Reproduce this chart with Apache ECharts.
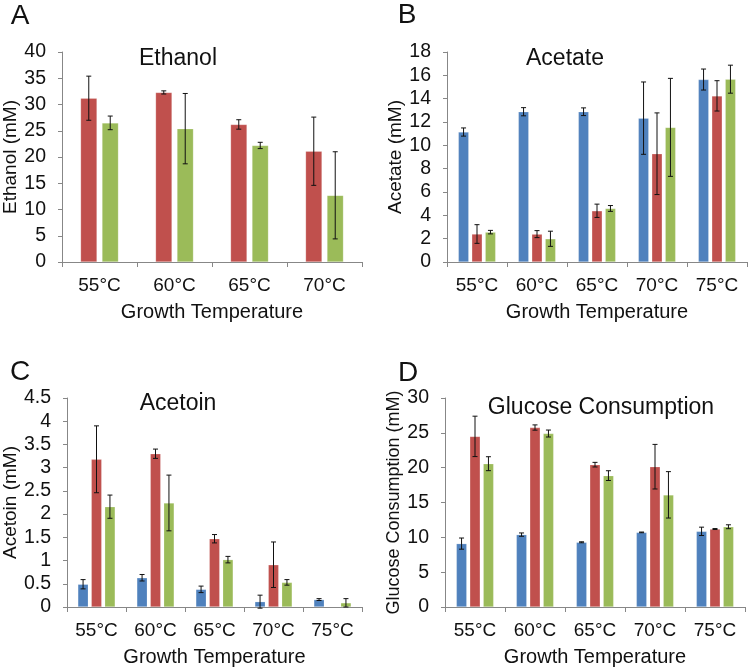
<!DOCTYPE html>
<html>
<head>
<meta charset="utf-8">
<script src="https://cdn.jsdelivr.net/npm/echarts@6/dist/echarts.min.js"></script>
<style>html,body{margin:0;padding:0;background:#fff}#c{width:750px;height:668px}</style>
</head>
<body>
<div id="c"></div>
<script>
// ---------- data ----------
const catsA = ['55°C', '60°C', '65°C', '70°C'];
const catsAll = ['55°C', '60°C', '65°C', '70°C', '75°C'];

const ethanolRed = [31.2, 32.3, 26.2, 21.1];
const ethanolRedErr = [4.2, 0.3, 0.9, 6.5];
const ethanolGreen = [26.5, 25.4, 22.2, 12.7];
const ethanolGreenErr = [1.3, 6.7, 0.6, 8.3];

const acetateBlue = [11.14, 12.88, 12.88, 12.33, 15.64];
const acetateBlueErr = [0.35, 0.35, 0.33, 3.1, 0.9];
const acetateRed = [2.4, 2.39, 4.39, 9.28, 14.24];
const acetateRedErr = [0.8, 0.3, 0.57, 3.5, 1.3];
const acetateGreen = [2.56, 1.99, 4.59, 11.54, 15.67];
const acetateGreenErr = [0.15, 0.65, 0.25, 4.2, 1.2];

const acetoinBlue = [0.49, 0.63, 0.38, 0.115, 0.16];
const acetoinBlueErr = [0.1, 0.07, 0.07, 0.14, 0.02];
const acetoinRed = [3.18, 3.3, 1.47, 0.91, null];
const acetoinRedErr = [0.72, 0.1, 0.09, 0.49, null];
const acetoinGreen = [2.16, 2.24, 1.02, 0.53, 0.09];
const acetoinGreenErr = [0.25, 0.6, 0.07, 0.06, 0.09];

const glucoseBlue = [9.1, 10.39, 9.29, 10.71, 10.86];
const glucoseBlueErr = [0.8, 0.24, 0.07, 0.05, 0.6];
const glucoseRed = [24.49, 25.76, 20.43, 20.14, 11.19];
const glucoseRedErr = [2.9, 0.38, 0.33, 3.2, 0.07];
const glucoseGreen = [20.57, 24.9, 18.86, 16.1, 11.52];
const glucoseGreenErr = [1.0, 0.5, 0.7, 3.33, 0.28];

const yTicksA = {min: 0, max: 40, interval: 5};
const yTicksB = {min: 0, max: 18, interval: 2};
const yTicksC = {min: 0, max: 4.5, interval: 0.5};
const yTicksD = {min: 0, max: 30, interval: 5};

// ---------- styles ----------
const BLUE = '#4F81BD', RED = '#C0504D', GREEN = '#9BBB59';
const AX = '#878787';
const FONT = '"Liberation Sans", Arial, sans-serif';

const grids = [
  {left: 60, top: 52, width: 302, height: 210},
  {left: 447, top: 52, width: 300, height: 210},
  {left: 66, top: 398, width: 296, height: 210},
  {left: 445, top: 398, width: 300, height: 210}
];

function xAxis(i, cats) {
  return {
    type: 'category', gridIndex: i, data: cats,
    name: 'Growth Temperature', nameLocation: 'middle', nameGap: 40,
    nameTextStyle: {fontFamily: FONT, fontSize: 20, color: '#111'},
    axisLine: {lineStyle: {color: AX, width: 1}},
    axisTick: {show: true, inside: false, length: 5, interval: 0, lineStyle: {color: AX}},
    axisLabel: {interval: 0, margin: 14, fontFamily: FONT, fontSize: 19, color: '#111'},
    splitLine: {show: false}
  };
}
function yAxis(i, name, t, nameSize) {
  return {
    type: 'value', gridIndex: i, min: t.min, max: t.max, interval: t.interval,
    name: name, nameLocation: 'middle', nameGap: 42,
    nameTextStyle: {fontFamily: FONT, fontSize: nameSize, color: '#111'},
    axisLine: {show: true, lineStyle: {color: AX, width: 1}},
    axisTick: {show: true, inside: false, length: 4, lineStyle: {color: AX}},
    axisLabel: {margin: 16, fontFamily: FONT, fontSize: 19.5, color: '#111'},
    splitLine: {show: false}
  };
}

function bar(i, data, color, width, gap) {
  return {
    type: 'bar', xAxisIndex: i, yAxisIndex: i, data: data,
    barWidth: width, barGap: gap,
    itemStyle: {color: color, borderColor: 'rgba(255,255,255,0.35)', borderWidth: 0.6},
    z: 2, silent: true
  };
}
function err(i, vals, errs, offset) {
  const d = [];
  vals.forEach((v, k) => {
    if (v != null && errs[k] != null) d.push([k, v - errs[k], v + errs[k]]);
  });
  return {
    type: 'custom', xAxisIndex: i, yAxisIndex: i, data: d, z: 5, silent: true,
    encode: {x: 0, y: [1, 2]},
    renderItem: function (params, api) {
      const xi = api.value(0);
      const lo = api.coord([xi, api.value(1)]);
      const hi = api.coord([xi, api.value(2)]);
      const x = lo[0] + offset;
      const st = {stroke: '#111', lineWidth: 1};
      const c = 2.5;
      return {type: 'group', children: [
        {type: 'line', shape: {x1: x, y1: lo[1], x2: x, y2: hi[1]}, style: st},
        {type: 'line', shape: {x1: x - c, y1: hi[1], x2: x + c, y2: hi[1]}, style: st},
        {type: 'line', shape: {x1: x - c, y1: lo[1], x2: x + c, y2: lo[1]}, style: st}
      ]};
    }
  };
}

const wA = 16.5, gA = '30%', stepA = 16.5 * 1.3;
const w3 = 10.5, g3 = '28%', step3 = 10.5 * 1.28;

const series = [
  bar(0, ethanolRed, RED, wA, gA),
  bar(0, ethanolGreen, GREEN, wA, gA),
  err(0, ethanolRed, ethanolRedErr, -0.5 * stepA),
  err(0, ethanolGreen, ethanolGreenErr, 0.5 * stepA),

  bar(1, acetateBlue, BLUE, w3, g3),
  bar(1, acetateRed, RED, w3, g3),
  bar(1, acetateGreen, GREEN, w3, g3),
  err(1, acetateBlue, acetateBlueErr, -step3),
  err(1, acetateRed, acetateRedErr, 0),
  err(1, acetateGreen, acetateGreenErr, step3),

  bar(2, acetoinBlue, BLUE, w3, g3),
  bar(2, acetoinRed, RED, w3, g3),
  bar(2, acetoinGreen, GREEN, w3, g3),
  err(2, acetoinBlue, acetoinBlueErr, -step3),
  err(2, acetoinRed, acetoinRedErr, 0),
  err(2, acetoinGreen, acetoinGreenErr, step3),

  bar(3, glucoseBlue, BLUE, w3, g3),
  bar(3, glucoseRed, RED, w3, g3),
  bar(3, glucoseGreen, GREEN, w3, g3),
  err(3, glucoseBlue, glucoseBlueErr, -step3),
  err(3, glucoseRed, glucoseRedErr, 0),
  err(3, glucoseGreen, glucoseGreenErr, step3)
];

function txt(x, y, s, size) {
  return {type: 'text', x: x, y: y, z: 10, silent: true,
    style: {text: s, fontFamily: FONT, fontSize: size, fill: '#111', textAlign: 'center', textVerticalAlign: 'middle'}};
}

const chart = echarts.init(document.getElementById('c'), null, {renderer: 'canvas'});
chart.setOption({
  animation: false,
  backgroundColor: '#fff',
  grid: grids,
  xAxis: [xAxis(0, catsA), xAxis(1, catsAll), xAxis(2, catsAll), xAxis(3, catsAll)],
  yAxis: [
    yAxis(0, 'Ethanol (mM)', yTicksA, 19),
    yAxis(1, 'Acetate (mM)', yTicksB, 19),
    yAxis(2, 'Acetoin (mM)', yTicksC, 19),
    yAxis(3, 'Glucose Consumption (mM)', yTicksD, 18)
  ],
  series: series,
  graphic: [
    txt(20, 16, 'A', 28),
    txt(407, 15, 'B', 28),
    txt(20, 372, 'C', 28),
    txt(408, 373, 'D', 28),
    txt(178, 59, 'Ethanol', 23),
    txt(565, 59, 'Acetate', 23),
    txt(178, 404, 'Acetoin', 23),
    txt(601, 408, 'Glucose Consumption', 23)
  ]
});
</script>
</body>
</html>
